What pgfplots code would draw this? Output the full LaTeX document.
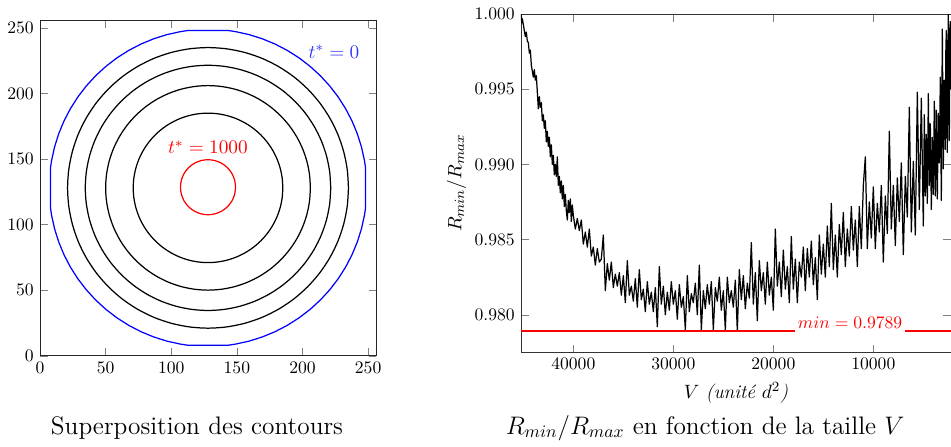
\documentclass[border=0pt]{standalone}
\usepackage{pgfplots}
\pgfplotsset{compat=1.18}
\usepackage{pgfplotstable}
\definecolor{minred}{RGB}{255,0,0}

\pgfplotstableread{
V r
45233 1.0000
45150 0.9994
45100 0.9997
45000 0.9993
44900 0.9989
44800 0.9985
44700 0.9988
44600 0.9982
44500 0.9981
44400 0.9974
44300 0.9976
44200 0.9966
44100 0.9962
44000 0.9958
43900 0.9963
43800 0.9956
43700 0.9959
43600 0.9948
43500 0.9937
43400 0.9945
43300 0.9938
43200 0.9941
43100 0.9929
43000 0.9933
42900 0.9924
42800 0.9929
42700 0.9915
42600 0.9922
42500 0.9912
42400 0.9918
42300 0.9905
42200 0.9913
42100 0.9900
42000 0.9906
41900 0.9893
41800 0.9900
41700 0.9892
41600 0.9905
41500 0.9886
41400 0.9892
41300 0.9881
41200 0.9889
41100 0.9877
41000 0.9886
40900 0.9872
40800 0.9880
40700 0.9869
40600 0.9863
40500 0.9876
40400 0.9868
40300 0.9877
40200 0.9862
40100 0.9873
40000 0.9866
39800 0.9857
39600 0.9864
39400 0.9856
39200 0.9863
39000 0.9847
38800 0.9855
38600 0.9845
38400 0.9857
38200 0.9839
38000 0.9845
37800 0.9833
37600 0.9844
37400 0.9835
37200 0.9837
37000 0.9853
36800 0.9816
36600 0.9834
36400 0.9823
36200 0.9835
36000 0.9818
35800 0.9827
35600 0.9819
35400 0.9828
35200 0.9813
35000 0.9826
34800 0.9808
34600 0.9836
34400 0.9813
34200 0.9819
34000 0.9809
33800 0.9824
33600 0.9805
33400 0.9830
33200 0.9810
33000 0.9817
32800 0.9802
32600 0.9822
32400 0.9807
32200 0.9815
32000 0.9802
31800 0.9818
31600 0.9792
31400 0.9832
31200 0.9807
31000 0.9819
30800 0.9800
30600 0.9815
30400 0.9803
30200 0.9822
30000 0.9807
29800 0.9816
29600 0.9797
29400 0.9820
29200 0.9805
29000 0.9812
28800 0.9790
28600 0.9826
28400 0.9802
28200 0.9814
28000 0.9808
27800 0.9821
27600 0.9800
27400 0.9833
27200 0.9790
27000 0.9816
26800 0.9804
26600 0.9820
26400 0.9807
26200 0.9822
26000 0.9790
25800 0.9818
25600 0.9809
25400 0.9825
25200 0.9803
25000 0.9816
24800 0.9790
24600 0.9825
24400 0.9808
24200 0.9816
24000 0.9805
23800 0.9823
23600 0.9789
23400 0.9830
23200 0.9810
23000 0.9826
22800 0.9804
22600 0.9821
22400 0.9811
22200 0.9848
22000 0.9807
21800 0.9828
21600 0.9796
21400 0.9836
21200 0.9816
21000 0.9828
20800 0.9807
20600 0.9835
20400 0.9813
20200 0.9825
20000 0.9803
19800 0.9857
19600 0.9819
19400 0.9835
19200 0.9812
19000 0.9843
18800 0.9817
18600 0.9832
18400 0.9808
18200 0.9852
18000 0.9817
17800 0.9837
17600 0.9808
17400 0.9835
17200 0.9825
17000 0.9845
16800 0.9816
16600 0.9844
16400 0.9825
16200 0.9849
16000 0.9820
15800 0.9838
15600 0.9810
15400 0.9853
15200 0.9827
15000 0.9847
14800 0.9825
14600 0.9859
14400 0.9832
14200 0.9874
14000 0.9830
13800 0.9853
13600 0.9825
13400 0.9860
13200 0.9840
13000 0.9868
12800 0.9832
12600 0.9857
12400 0.9839
12200 0.9872
12000 0.9843
11800 0.9863
11600 0.9832
11400 0.9872
11200 0.9844
11000 0.9886
10800 0.9905
10600 0.9844
10400 0.9875
10200 0.9851
10000 0.9885
9800 0.9844
9600 0.9874
9400 0.9855
9200 0.9886
9000 0.9835
8800 0.9879
8600 0.9854
8400 0.9922
8200 0.9857
8000 0.9886
7800 0.9846
7600 0.9891
7400 0.9862
7200 0.9901
7000 0.9840
6800 0.9892
6600 0.9865
6400 0.9938
6200 0.9855
6000 0.9902
5800 0.9853
5600 0.9948
5400 0.9870
5200 0.9944
5000 0.9859
4900 0.9933
4800 0.9879
4700 0.9920
4600 0.9874
4500 0.9947
4400 0.9886
4300 0.9927
4200 0.9870
4100 0.9918
4000 0.9880
3900 0.9942
3800 0.9879
3700 0.9936
3600 0.9877
3500 0.9934
3400 0.9901
3300 0.9958
3200 0.9876
3100 0.9990
3000 0.9897
2950 0.9945
2900 0.9956
2850 0.9925
2800 0.9910
2750 0.9975
2700 0.9989
2650 0.9930
2600 0.9908
2550 0.9970
2500 0.99995
2450 0.9940
2400 0.9916
2350 0.9985
2300 0.9995
2250 0.9950
}\ratiodata

\pgfplotstableread{
V r
45233 0.9789
12330 0.9789
2233 0.9789
}\mindata

\begin{document}
\begin{tikzpicture}
\path[use as bounding box] (0,0) rectangle (540.3pt,253.4pt);

% ---------------- left panel ----------------
\begin{axis}[
  at={(22.73pt,51.31pt)}, anchor=south west,
  scale only axis, width=190.9pt, height=190.7pt,
  xmin=0, xmax=256, ymin=0, ymax=256,
  xtick={0,50,...,250}, ytick={0,50,...,250},
  tick align=inside,
  axis line style={black!85},
]
% t* = 0 contour (blue)
\addplot[blue, line width=0.7pt] coordinates {
(248,128) (248,143.5) (247.16,149.01) (244.88,159.32) (241.70,169.38) (237.66,179.14)
(232.79,188.5) (227.12,197.40) (220.69,205.78) (213.56,213.56) (205.78,220.69)
(197.40,227.12) (188.5,232.79) (179.14,237.66) (169.38,241.70) (159.32,244.88)
(149.01,247.16) (143.5,248) (128,248)
(112.5,248) (106.99,247.16) (96.68,244.88) (86.62,241.70) (76.86,237.66) (67.5,232.79)
(58.60,227.12) (50.22,220.69) (42.44,213.56) (35.31,205.78) (28.88,197.40) (23.21,188.5)
(18.34,179.14) (14.30,169.38) (11.12,159.32) (8.84,149.01) (8,143.5) (8,128)
(8,112.5) (8.84,106.99) (11.12,96.68) (14.30,86.62) (18.34,76.86) (23.21,67.5)
(28.88,58.60) (35.31,50.22) (42.44,42.44) (50.22,35.31) (58.60,28.88) (67.5,23.21)
(76.86,18.34) (86.62,14.30) (96.68,11.12) (106.99,8.84) (112.5,8) (128,8)
(143.5,8) (149.01,8.84) (159.32,11.12) (169.38,14.30) (179.14,18.34) (188.5,23.21)
(197.40,28.88) (205.78,35.31) (213.56,42.44) (220.69,50.22) (227.12,58.60) (232.79,67.5)
(237.66,76.86) (241.70,86.62) (244.88,96.68) (247.16,106.99) (248,112.5) (248,128)
};
% black contours
\addplot[black, line width=0.7pt, smooth] coordinates {
(235,128) (234.08,141.97) (231.35,155.69) (226.86,168.95) (220.66,181.5) (212.89,193.14)
(203.66,203.66) (193.14,212.89) (181.5,220.66) (168.95,226.86) (155.69,231.35) (141.97,234.08)
(128,235) (114.03,234.08) (100.31,231.35) (87.05,226.86) (74.5,220.66) (62.86,212.89)
(52.34,203.66) (43.11,193.14) (35.34,181.5) (29.14,168.95) (24.65,155.69) (21.92,141.97)
(21,128) (21.92,114.03) (24.65,100.31) (29.14,87.05) (35.34,74.5) (43.11,62.86)
(52.34,52.34) (62.86,43.11) (74.5,35.34) (87.05,29.14) (100.31,24.65) (114.03,21.92)
(128,21) (141.97,21.92) (155.69,24.65) (168.95,29.14) (181.5,35.34) (193.14,43.11)
(203.66,52.34) (212.89,62.86) (220.66,74.5) (226.86,87.05) (231.35,100.31) (234.08,114.03) (235,128)
};
\addplot[black, line width=0.7pt, smooth] coordinates {
(221.5,128) (220.7,140.2) (218.31,152.2) (214.38,163.78) (208.97,174.75) (202.18,184.92)
(194.11,194.11) (184.92,202.18) (174.75,208.97) (163.78,214.38) (152.2,218.31) (140.2,220.7)
(128,221.5) (115.8,220.7) (103.8,218.31) (92.22,214.38) (81.25,208.97) (71.08,202.18)
(61.89,194.11) (53.82,184.92) (47.03,174.75) (41.62,163.78) (37.69,152.2) (35.3,140.2)
(34.5,128) (35.3,115.8) (37.69,103.8) (41.62,92.22) (47.03,81.25) (53.82,71.08)
(61.89,61.89) (71.08,53.82) (81.25,47.03) (92.22,41.62) (103.8,37.69) (115.8,35.3)
(128,34.5) (140.2,35.3) (152.2,37.69) (163.78,41.62) (174.75,47.03) (184.92,53.82)
(194.11,61.89) (202.18,71.08) (208.97,81.25) (214.38,92.22) (218.31,103.8) (220.7,115.8) (221.5,128)
};
\addplot[black, line width=0.7pt, smooth] coordinates {
(206,128) (205.33,138.18) (203.34,148.19) (200.06,157.85) (195.55,167) (189.88,175.48)
(183.15,183.15) (175.48,189.88) (167,195.55) (157.85,200.06) (148.19,203.34) (138.18,205.33)
(128,206) (117.82,205.33) (107.81,203.34) (98.15,200.06) (89,195.55) (80.52,189.88)
(72.85,183.15) (66.12,175.48) (60.45,167) (55.94,157.85) (52.66,148.19) (50.67,138.18)
(50,128) (50.67,117.82) (52.66,107.81) (55.94,98.15) (60.45,89) (66.12,80.52)
(72.85,72.85) (80.52,66.12) (89,60.45) (98.15,55.94) (107.81,52.66) (117.82,50.67)
(128,50) (138.18,50.67) (148.19,52.66) (157.85,55.94) (167,60.45) (175.48,66.12)
(183.15,72.85) (189.88,80.52) (195.55,89) (200.06,98.15) (203.34,107.81) (205.33,117.82) (206,128)
};
\addplot[black, line width=0.7pt, smooth] coordinates {
(185,128) (184.51,135.44) (183.06,142.75) (180.66,149.81) (177.36,156.5) (173.22,162.7)
(168.31,168.31) (162.7,173.22) (156.5,177.36) (149.81,180.66) (142.75,183.06) (135.44,184.51)
(128,185) (120.56,184.51) (113.25,183.06) (106.19,180.66) (99.5,177.36) (93.3,173.22)
(87.69,168.31) (82.78,162.7) (78.64,156.5) (75.34,149.81) (72.94,142.75) (71.49,135.44)
(71,128) (71.49,120.56) (72.94,113.25) (75.34,106.19) (78.64,99.5) (82.78,93.3)
(87.69,87.69) (93.3,82.78) (99.5,78.64) (106.19,75.34) (113.25,72.94) (120.56,71.49)
(128,71) (135.44,71.49) (142.75,72.94) (149.81,75.34) (156.5,78.64) (162.7,82.78)
(168.31,87.69) (173.22,93.3) (177.36,99.5) (180.66,106.19) (183.06,113.25) (184.51,120.56) (185,128)
};
% t* = 1000 contour (red)
\addplot[red, line width=0.7pt, smooth] coordinates {
(149,128.5) (148.28,133.94) (146.19,139) (142.85,143.35) (138.5,146.69) (133.44,148.78)
(128,149.5) (122.56,148.78) (117.5,146.69) (113.15,143.35) (109.81,139) (107.72,133.94)
(107,128.5) (107.72,123.06) (109.81,118) (113.15,113.65) (117.5,110.31) (122.56,108.22)
(128,107.5) (133.44,108.22) (138.5,110.31) (142.85,113.65) (146.19,118) (148.28,123.06) (149,128.5)
};
\node[text=blue!80] at (axis cs:224,232) {\fontsize{11}{13}\selectfont$t^{*} = 0$};
\node[text=red] at (axis cs:128,159) {\fontsize{11}{13}\selectfont$t^{*} = 1000$};
\end{axis}

% ---------------- right panel ----------------
\begin{axis}[
  at={(296.0pt,53.24pt)}, anchor=south west,
  scale only axis, width=244.3pt, height=192.2pt,
  x dir=reverse,
  xmin=2233, xmax=45233, ymin=0.9775, ymax=1.0,
  xtick={10000,20000,30000,40000},
  ytick={0.980,0.985,0.990,0.995,1.000},
  scaled ticks=false,
  xticklabel style={/pgf/number format/set thousands separator={}},
  yticklabel style={/pgf/number format/.cd, fixed, fixed zerofill, precision=3},
  tick align=inside,
  xlabel={\fontsize{11}{13}\selectfont$V$ \textit{(unité $d^{2}$)}},
  ylabel={\fontsize{11}{13}\selectfont$R_{min}/R_{max}$},
  ylabel style={yshift=-2pt},
  axis line style={black!80},
]
\addplot[black, line width=0.7pt, line join=round] table[x=V, y=r] {\ratiodata};
\addplot[minred, line width=0.9pt, mark=none] table[x=V, y=r] {\mindata};
\node[text=minred, fill=white, inner xsep=1.6pt, inner ysep=2pt, anchor=base] at (axis cs:12330,0.97905) {\fontsize{9.6}{12}\selectfont$min = 0.9789$};
\end{axis}

% ---------------- captions ----------------
\node[anchor=base] at (111.9pt,6.8pt) {\Large Superposition des contours};
\node[anchor=base] at (400.6pt,6.8pt) {\Large $R_{min}/R_{max}$ en fonction de la taille $V$};
\end{tikzpicture}
\end{document}
